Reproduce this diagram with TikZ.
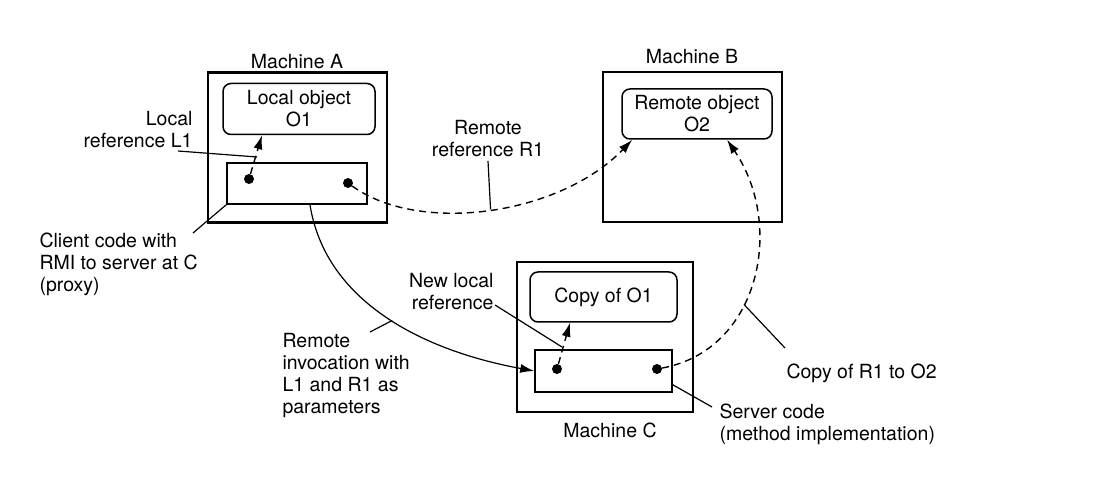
\documentclass[tikz,border=0pt]{standalone}
\usepackage{fontspec}
\setmainfont{TeX Gyre Heros}
\usetikzlibrary{arrows.meta}

\begin{document}
\begin{tikzpicture}[
  x=1pt,y=-1pt,
  every node/.style={font=\fontsize{19.5}{22}\selectfont},
  machine/.style={draw,line width=2.4pt,inner sep=0pt,minimum height=150pt},
  object/.style={draw,line width=1.5pt,rounded corners=8pt,align=center,
    inner sep=0pt,minimum height=51pt},
  code/.style={draw,line width=1.5pt,inner sep=0pt,minimum height=41pt},
  dot/.style={circle,fill,inner sep=0pt,minimum size=10pt},
  call/.style={-{Latex[length=14pt,width=9pt]},line width=1.2pt},
  ref/.style={-{Latex[length=14pt,width=9pt]},line width=1.4pt,
    dash pattern=on 7pt off 5pt},
  ptr/.style={line width=1.2pt}
]
  \useasboundingbox (0,0) rectangle (1114,478);

  % machine A
  \node[machine,minimum width=179pt] (mA) at (297.5,147.5) {};
  \node (mAlab) at (297,62) {Machine A};
  \node[object,minimum width=152pt] (lobj) at (299,109) {Local object\\O1};
  \node[code,minimum width=140pt] (client) at (297,183.5) {};
  \node[dot] (dA1) at (249,179) {};
  \node[dot] (dA2) at (348,183) {};

  % machine B
  \node[machine,minimum width=179pt] (mB) at (692.5,147) {};
  \node (mBlab) at (692,57) {Machine B};
  \node[object,minimum width=150pt,minimum height=50pt] (rmobj) at (697,114)
    {Remote object\\O2};

  % machine C
  \node[machine,minimum width=176pt] (mC) at (605,337) {};
  \node (mClab) at (610,430) {Machine C};
  \node[object,minimum width=147pt,minimum height=50pt] (cpobj) at (603.5,297)
    {Copy of O1};
  \node[code,minimum width=137pt,minimum height=42pt] (server) at (603.5,371) {};
  \node[dot] (dC1) at (557,369) {};
  \node[dot] (dC2) at (657,369) {};

  % references and invocation
  \draw[ref] (dA1) -- ([xshift=-37pt]lobj.south);
  \draw[ref] (dC1) -- ([xshift=-33.5pt]cpobj.south);
  \draw[ref] (dA2) .. controls (420,235) and (560,215) ..
    coordinate[pos=0.5] (rrmid) ([xshift=11pt]rmobj.south west);
  \draw[call] ([xshift=13pt]client.south) .. controls (325,300) and (420,350) ..
    coordinate[pos=0.53] (rimid) (server.west);
  \draw[ref] (dC2) .. controls (760,350) and (785,225) ..
    coordinate[pos=0.4] (r2mid) ([xshift=30pt]rmobj.south);

  % labels
  \node[align=right,anchor=east] (l1lab) at (196,130) {Local\\reference L1};
  \node[align=center] (rrlab) at (488,139) {Remote\\reference R1};
  \node[align=left,anchor=north west] (cclab) at (36,229)
    {Client code with\\RMI to server at C\\(proxy)};
  \node[align=right,anchor=east] (nllab) at (497,292) {New local\\reference};
  \node[align=left,anchor=north west] (rilab) at (279,330)
    {Remote\\invocation with\\L1 and R1 as\\parameters};
  \node[anchor=west] (r2lab) at (783,373) {Copy of R1 to O2};
  \node[align=left,anchor=north west] (sclab) at (716,400)
    {Server code\\(method implementation)};

  % pointers
  \coordinate (l1ptr) at (178,151);
  \coordinate (ccptr) at (193,233);
  \coordinate (nlptr) at (495,305);
  \coordinate (riptr) at (370,332);
  \coordinate (r2ptr) at (785,348);
  \coordinate (scptr) at (712,407);
  \draw[ptr] (l1ptr) -- ([xshift=8pt,yshift=22pt]dA1.center);
  \draw[ptr] (rrlab.south) -- (rrmid);
  \draw[ptr] (ccptr) -- (client.south west);
  \draw[ptr] (nlptr) -- ([xshift=5pt,yshift=22pt]dC1.center);
  \draw[ptr] (riptr) -- (rimid);
  \draw[ptr] (r2ptr) -- (r2mid);
  \draw[ptr] (scptr) -- ([yshift=8pt]server.south east);
\end{tikzpicture}
\end{document}
